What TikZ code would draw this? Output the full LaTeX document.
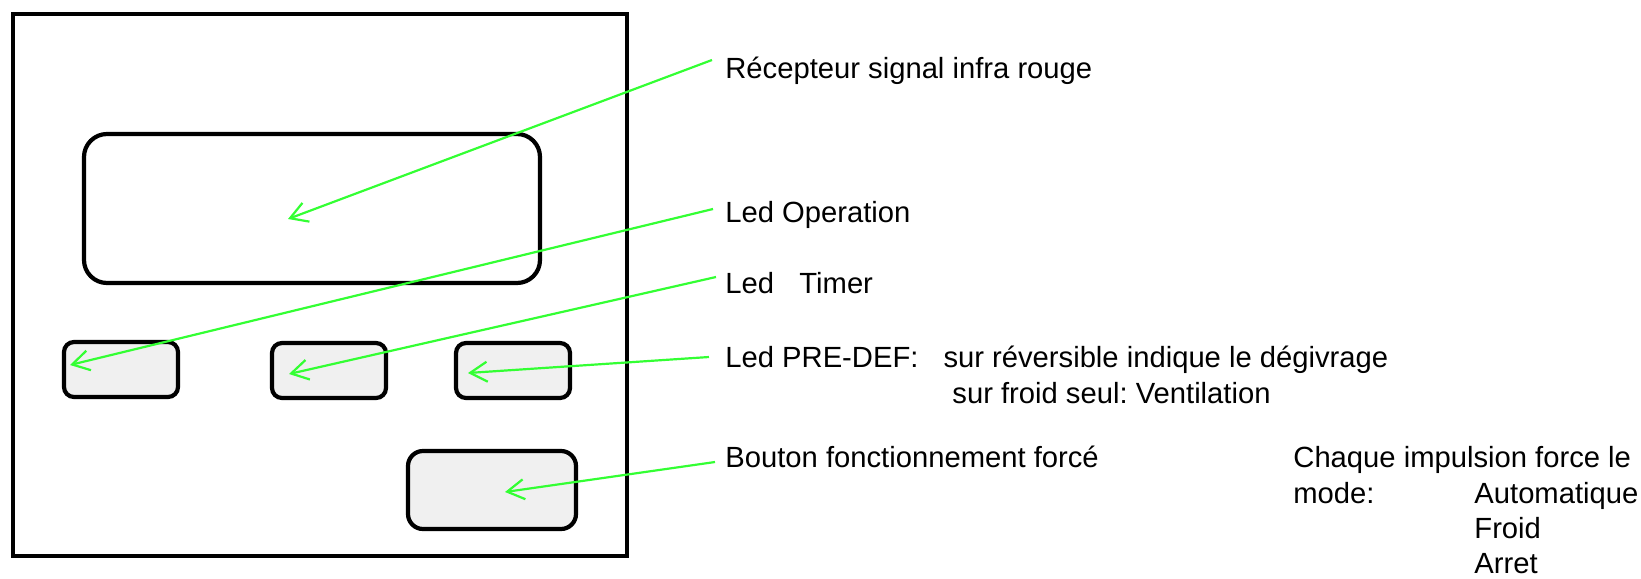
\documentclass[tikz,border=0pt]{standalone}
\usepackage{fontspec}
\setmainfont{Liberation Sans}
\usepackage{tikz}
\usetikzlibrary{arrows.meta}
\frenchspacing

\definecolor{callout}{RGB}{51,255,51}
\definecolor{keyfill}{RGB}{240,240,240}

\begin{document}
\begin{tikzpicture}[
    x=0.5pt, y=-0.5pt,
    frame/.style={draw, line width=2.1pt, inner sep=0pt},
    key/.style={draw, line width=2.1pt, fill=keyfill, rounded corners=5pt,
                inner sep=0pt, minimum width=57pt, minimum height=27.5pt},
    txt/.style={anchor=base west, inner sep=0pt,
                font=\fontsize{14.6pt}{17.5pt}\selectfont},
    arrow/.style={-{Straight Barb[length=8.5pt, width=10pt]}, line width=1.1pt,
                  draw=callout}
]
\useasboundingbox (0,0) rectangle (1641,578);

% front panel
\node[frame, minimum width=307pt, minimum height=271pt] (front) at (320,285) {};
\node[frame, rounded corners=11.5pt, minimum width=228pt,
      minimum height=74.5pt] (screen) at (312,208.5) {};
\node[key] (ledop) at (121,369.5) {};
\node[key] (ledtimer) at (329,370.5) {};
\node[key] (ledpredef) at (513,370.5) {};
\node[key, rounded corners=7.5pt, minimum width=84pt, minimum height=39pt]
      (forcebtn) at (492,490) {};

% descriptions
\node[txt] (recv) at (725,78) {Récepteur signal infra rouge};
\node[txt] (opname) at (725,222) {Led Operation};
\node[txt] (timername) at (725,293) {Led\hspace{12.65pt}Timer};
\node[txt] (predefname) at (725,367)
  {Led PRE-DEF:\hspace{12.5pt}sur réversible indique le dégivrage};
\node[txt] (predefnote) at (952,403) {sur froid seul: Ventilation};
\node[txt] (btnname) at (725,467) {Bouton fonctionnement forcé};
\node[txt] (pulse) at (1293,467) {Chaque impulsion force le};
\node[txt] (mode) at (1293,503) {mode:};
\node[txt] (auto) at (1474,503) {Automatique};
\node[txt] (cold) at (1474,538) {Froid};
\node[txt] (off) at (1474,573) {Arret};

% pointers into the panel
\coordinate (recv-pt) at (288,219);
\coordinate (op-pt) at (70,365);
\coordinate (timer-pt) at (289,374);
\coordinate (predef-pt) at (468,373);
\coordinate (btn-pt) at (505,492);

\draw[arrow] ([shift={(-13,-18)}]recv.base west) -- (recv-pt);
\draw[arrow] ([shift={(-12,-13)}]opname.base west) -- (op-pt);
\draw[arrow] ([shift={(-9,-16)}]timername.base west) -- (timer-pt);
\draw[arrow] ([shift={(-16,-10)}]predefname.base west) -- (predef-pt);
\draw[arrow] ([shift={(-10,-5)}]btnname.base west) -- (btn-pt);
\end{tikzpicture}
\end{document}
